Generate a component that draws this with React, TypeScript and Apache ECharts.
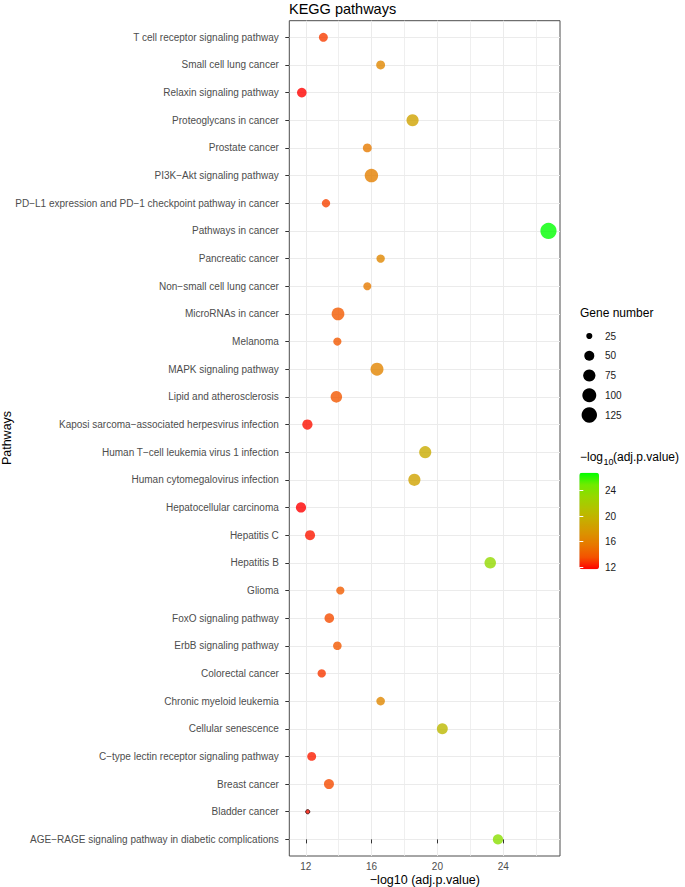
import React, { useEffect, useRef } from "react";
import * as echarts from "echarts";

// Categories, bottom (index 0) to top, as ggplot orders them
const pathways = [
  "AGE\u2212RAGE signaling pathway in diabetic complications",
  "Bladder cancer",
  "Breast cancer",
  "C\u2212type lectin receptor signaling pathway",
  "Cellular senescence",
  "Chronic myeloid leukemia",
  "Colorectal cancer",
  "ErbB signaling pathway",
  "FoxO signaling pathway",
  "Glioma",
  "Hepatitis B",
  "Hepatitis C",
  "Hepatocellular carcinoma",
  "Human cytomegalovirus infection",
  "Human T\u2212cell leukemia virus 1 infection",
  "Kaposi sarcoma\u2212associated herpesvirus infection",
  "Lipid and atherosclerosis",
  "MAPK signaling pathway",
  "Melanoma",
  "MicroRNAs in cancer",
  "Non\u2212small cell lung cancer",
  "Pancreatic cancer",
  "Pathways in cancer",
  "PD\u2212L1 expression and PD\u22121 checkpoint pathway in cancer",
  "PI3K\u2212Akt signaling pathway",
  "Prostate cancer",
  "Proteoglycans in cancer",
  "Relaxin signaling pathway",
  "Small cell lung cancer",
  "T cell receptor signaling pathway",
];

// -log10(adj.p.value)
const negLogP = [
  23.68, 12.12, 13.41, 12.36, 20.3, 16.55, 12.97, 13.92, 13.43, 14.1,
  23.21, 12.26, 11.71, 18.6, 19.26, 12.1, 13.86, 16.33, 13.92, 13.96,
  15.74, 16.55, 26.75, 13.23, 15.99, 15.74, 18.49, 11.76, 16.55, 13.07,
];

// Gene number
const geneNumber = [
  52, 22, 50, 40, 59, 38, 36, 38, 46, 35,
  66, 50, 52, 74, 74, 52, 66, 85, 35, 82,
  34, 36, 140, 36, 92, 40, 74, 46, 40, 40,
];

const xTickLabels = [12, 16, 20, 24];
const xMinorGrid = [14, 18, 22, 26];
const sizeLegendValues = [25, 50, 75, 100, 125];
const colorBarTicks = [12, 16, 20, 24];
const colorStops = [
  "#FF0000", "#F45300", "#E87700", "#DA9300", "#C9AB00",
  "#B3C200", "#98D700", "#70EB00", "#00FF00",
];

const FONT = "'Liberation Sans', Arial, Helvetica, sans-serif";

export default function App() {
  const ref = useRef<HTMLDivElement>(null);

  useEffect(() => {
    if (!ref.current) return;
    const chart = echarts.init(ref.current, null, { renderer: "svg" });

    const gMin = Math.min(...geneNumber);
    const gMax = Math.max(...geneNumber);
    const sizeOf = (v: number) =>
      1.8 + 2.4 * (1 + 5 * Math.sqrt(Math.max(0, v - gMin) / (gMax - gMin)));
    const pMin = Math.min(...negLogP);
    const pMax = Math.max(...negLogP);
    const idx = pathways.map((_, i) => i);

    const data = pathways.map((_, i) => ({
      value: [negLogP[i], i, geneNumber[i]],
      itemStyle:
        geneNumber[i] === gMin
          ? { borderColor: "#2a0000", borderWidth: 1 }
          : undefined,
    }));

    const legendCircles: any[] = [];
    sizeLegendValues.forEach((v, i) => {
      const cy = 336 + i * 19.75;
      legendCircles.push({
        type: "circle",
        shape: { cx: 589.3, cy, r: sizeOf(v) / 2 },
        style: { fill: "#000" },
      });
      legendCircles.push({
        type: "text",
        x: 605,
        y: cy,
        style: {
          text: String(v),
          fill: "#1a1a1a",
          fontSize: 10,
          fontFamily: FONT,
          align: "left",
          verticalAlign: "middle",
        },
      });
    });

    const option: any = {
      animation: false,
      textStyle: { fontFamily: FONT },
      title: {
        text: "KEGG pathways",
        left: 289,
        top: 1,
        padding: 0,
        textStyle: { fontSize: 14.5, fontWeight: "normal", color: "#000", fontFamily: FONT },
      },
      grid: [
        {
          left: 289.3,
          top: 20.7,
          width: 270.7,
          height: 835.3,
          show: true,
          borderColor: "#4d4d4d",
          borderWidth: 1,
          backgroundColor: "#fff",
          containLabel: false,
          outerBoundsMode: "none",
        },
        {
          left: 579.3,
          top: 472.7,
          width: 19.7,
          height: 96.6,
          show: false,
          containLabel: false,
          outerBoundsMode: "none",
        },
      ],
      xAxis: [
        {
          gridIndex: 0,
          type: "value",
          min: 11.0,
          max: 27.45,
          position: "bottom",
          axisLine: { show: false },
          axisTick: {
            show: true,
            customValues: xTickLabels,
            length: 4,
            lineStyle: { color: "#333" },
          },
          axisLabel: {
            customValues: xTickLabels,
            margin: 5,
            color: "#4d4d4d",
            fontSize: 10,
            fontFamily: FONT,
          },
          splitLine: { show: true, lineStyle: { color: "#ebebeb", width: 1 } },
        },
        {
          gridIndex: 0,
          type: "value",
          min: 11.0,
          max: 27.45,
          position: "bottom",
          axisLine: { show: false },
          axisTick: { show: false, customValues: xMinorGrid },
          axisLabel: { show: false, customValues: xMinorGrid },
          splitLine: { show: true, lineStyle: { color: "#ebebeb", width: 0.8 } },
        },
        { gridIndex: 1, type: "value", show: false, min: 0, max: 1 },
      ],
      yAxis: [
        {
          gridIndex: 0,
          type: "value",
          min: -0.6,
          max: pathways.length - 1 + 0.6,
          axisLine: { show: false },
          axisTick: {
            show: true,
            customValues: idx,
            length: 4,
            lineStyle: { color: "#333" },
          },
          axisLabel: {
            customValues: idx,
            formatter: (v: number) => pathways[Math.round(v)],
            margin: 10.5,
            color: "#4d4d4d",
            fontSize: 10,
            fontFamily: FONT,
          },
          splitLine: { show: true, lineStyle: { color: "#ebebeb", width: 1 } },
        },
        {
          gridIndex: 1,
          type: "value",
          min: pMin,
          max: pMax,
          position: "right",
          z: 10,
          axisLine: { show: false },
          axisTick: {
            show: true,
            customValues: colorBarTicks,
            inside: true,
            length: 4,
            lineStyle: { color: "#fff", width: 1 },
          },
          axisLabel: {
            customValues: colorBarTicks,
            margin: 6,
            color: "#1a1a1a",
            fontSize: 10,
            fontFamily: FONT,
          },
          splitLine: { show: false },
        },
        {
          gridIndex: 1,
          type: "value",
          min: pMin,
          max: pMax,
          position: "left",
          z: 10,
          axisLine: { show: false },
          axisTick: {
            show: true,
            customValues: colorBarTicks,
            inside: true,
            length: 4,
            lineStyle: { color: "#fff", width: 1 },
          },
          axisLabel: { show: false },
          splitLine: { show: false },
        },
      ],
      visualMap: {
        type: "continuous",
        seriesIndex: 0,
        dimension: 0,
        min: pMin,
        max: pMax,
        inRange: { color: colorStops },
        calculable: false,
        hoverLink: false,
        left: 579.3,
        top: 472.7,
        itemWidth: 19.7,
        itemHeight: 96.6,
        padding: 0,
      },
      series: [
        {
          type: "scatter",
          xAxisIndex: 0,
          yAxisIndex: 0,
          data,
          symbolSize: (val: number[]) => sizeOf(val[2]),
          z: 3,
          emphasis: { disabled: true },
        },
        {
          type: "scatter",
          xAxisIndex: 2,
          yAxisIndex: 1,
          data: [],
          silent: true,
        },
      ],
      graphic: [
        {
          type: "text",
          x: 424.9,
          y: 879.5,
          style: {
            text: "\u2212log10 (adj.p.value)",
            fill: "#000",
            fontSize: 12.5,
            fontFamily: FONT,
            align: "center",
            verticalAlign: "middle",
          },
        },
        {
          type: "text",
          x: 7,
          y: 438,
          rotation: Math.PI / 2,
          style: {
            text: "Pathways",
            fill: "#000",
            fontSize: 12.5,
            fontFamily: FONT,
            align: "center",
            verticalAlign: "middle",
          },
        },
        {
          type: "text",
          x: 580,
          y: 313,
          style: {
            text: "Gene number",
            fill: "#000",
            fontSize: 12,
            fontFamily: FONT,
            align: "left",
            verticalAlign: "middle",
          },
        },
        ...legendCircles,
        {
          type: "text",
          x: 580,
          y: 457,
          style: {
            text: "\u2212log",
            fill: "#000",
            fontSize: 12,
            fontFamily: FONT,
            align: "left",
            verticalAlign: "middle",
          },
        },
        {
          type: "text",
          x: 603.5,
          y: 462,
          style: {
            text: "10",
            fill: "#000",
            fontSize: 9,
            fontFamily: FONT,
            align: "left",
            verticalAlign: "middle",
          },
        },
        {
          type: "text",
          x: 613,
          y: 457,
          style: {
            text: "(adj.p.value)",
            fill: "#000",
            fontSize: 12,
            fontFamily: FONT,
            align: "left",
            verticalAlign: "middle",
          },
        },
      ],
    };

    chart.setOption(option);
    return () => chart.dispose();
  }, []);

  return (
    <div
      ref={ref}
      style={{ position: "absolute", left: 0, top: 0, width: 685, height: 887 }}
    />
  );
}
